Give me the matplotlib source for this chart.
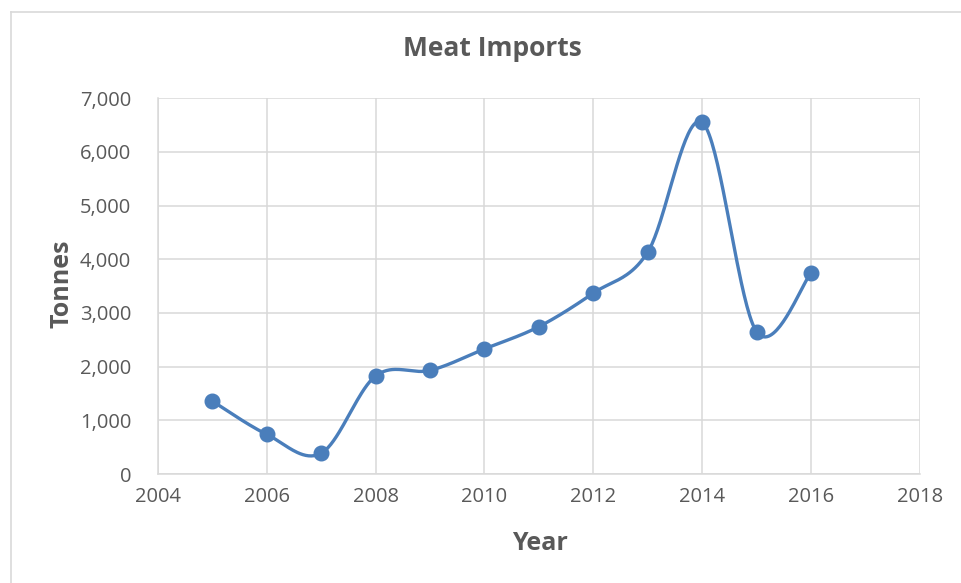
import numpy as np
import matplotlib
matplotlib.use("Agg")
import matplotlib.pyplot as plt
from matplotlib.lines import Line2D

years = [2005, 2006, 2007, 2008, 2009, 2010, 2011, 2012, 2013, 2014, 2015, 2016]
tonnes = [1360, 740, 385, 1825, 1930, 2330, 2745, 3370, 4135, 6550, 2650, 3745]
x_ticks = [2004, 2006, 2008, 2010, 2012, 2014, 2016, 2018]
y_ticks = [0, 1000, 2000, 3000, 4000, 5000, 6000, 7000]

TEXT = "#595959"
GRID = "#d9d9d9"
LINE = "#4a7ebb"
FONT = "Open Sans"


def smooth(xs, ys, n=40):
    xs = np.asarray(xs, float)
    ys = np.asarray(ys, float)
    px, py = [], []
    m = len(xs)
    for i in range(m - 1):
        i0 = max(i - 1, 0)
        i3 = min(i + 2, m - 1)
        p0 = np.array([xs[i], ys[i]])
        p3 = np.array([xs[i + 1], ys[i + 1]])
        c1 = p0 + (np.array([xs[i + 1], ys[i + 1]]) - np.array([xs[i0], ys[i0]])) / 6
        c2 = p3 - (np.array([xs[i3], ys[i3]]) - np.array([xs[i], ys[i]])) / 6
        t = np.linspace(0, 1, n)[:, None]
        b = ((1 - t) ** 3) * p0 + 3 * (1 - t) ** 2 * t * c1 + 3 * (1 - t) * t ** 2 * c2 + t ** 3 * p3
        px.extend(b[:, 0])
        py.extend(b[:, 1])
    return px, py


fig = plt.figure(figsize=(9.61, 5.83), dpi=100)
ax = fig.add_axes([157.7 / 961, 1 - 474 / 583, (920 - 157.7) / 961, (474 - 98.3) / 583])

sx, sy = smooth(years, tonnes)
ax.plot(sx, sy, color=LINE, lw=2.4, solid_capstyle="round", zorder=3)
ax.plot(years, tonnes, "o", color=LINE, ms=10.5, zorder=4)

ax.set_xlim(2004, 2018)
ax.set_ylim(0, 7000)
ax.set_xticks(x_ticks)
ax.set_yticks(y_ticks)
ax.set_xticklabels([str(v) for v in x_ticks], fontsize=14.5, color=TEXT, family=FONT)
ax.set_yticklabels([f"{v:,}" for v in y_ticks], fontsize=14.5, color=TEXT, family=FONT)
ax.tick_params(length=0, pad=9)
ax.tick_params(axis="y", pad=19)
ax.grid(True, color=GRID, lw=1.1)
ax.set_axisbelow(True)
for s in ["top", "right"]:
    ax.spines[s].set_visible(False)
for s in ["left", "bottom"]:
    ax.spines[s].set_color(GRID)
    ax.spines[s].set_linewidth(1.1)

fig.text(492 / 961, 1 - 48 / 583, "Meat Imports", ha="center", va="center",
         fontsize=19, fontweight="bold", color=TEXT, family=FONT)
fig.text(540 / 961, 1 - 543 / 583, "Year", ha="center", va="center",
         fontsize=18, fontweight="bold", color=TEXT, family=FONT)
fig.text(62 / 961, 1 - 284 / 583, "Tonnes", ha="center", va="center", rotation=90,
         fontsize=18, fontweight="bold", color=TEXT, family=FONT)

# chart area border (left and top visible)
fig.add_artist(Line2D([10.5 / 961, 10.5 / 961], [0, 1 - 11.5 / 583], color="#d9d9d9", lw=1.2,
                      transform=fig.transFigure))
fig.add_artist(Line2D([10.5 / 961, 1], [1 - 11.5 / 583, 1 - 11.5 / 583], color="#d9d9d9", lw=1.2,
                      transform=fig.transFigure))

fig.savefig("out.png", dpi=100)
